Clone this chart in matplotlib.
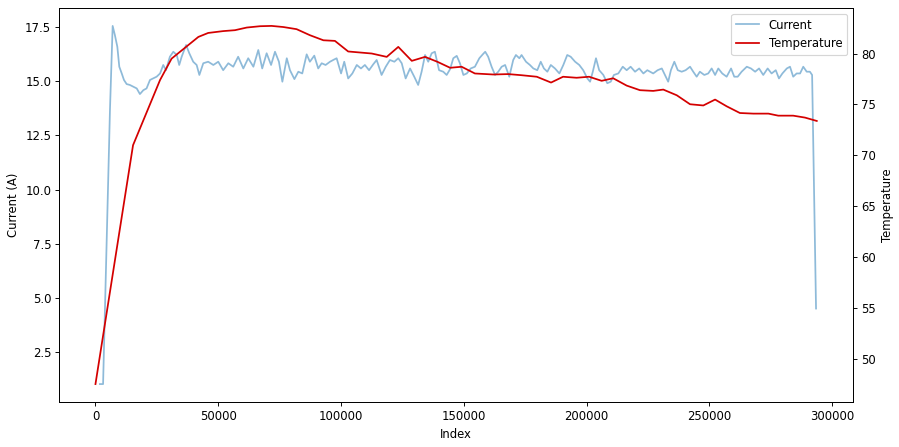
import matplotlib
matplotlib.use("Agg")
import matplotlib.pyplot as plt

current_index = [1800, 3100, 5000, 5900, 7000, 7900, 8900, 9700, 10700, 11600, 12700, 14000,
    15400, 16800, 18100, 19500, 20800, 22200, 23500, 24900, 26300, 27600, 28700, 30300,
    31700, 33100, 34100, 35100, 36900, 38200, 39800, 41200, 42300, 43900, 45900, 48000,
    50000, 52000, 54100, 56100, 58100, 60200, 62200, 64300, 66300, 67900, 69700, 71500,
    73100, 74700, 76100, 77900, 79200, 81000, 82600, 84200, 86000, 87300, 89100, 90700,
    92100, 93700, 95500, 96800, 98200, 100000, 101300, 102900, 104600, 106400, 108100,
    109700, 111400, 113100, 114500, 116500, 118200, 119900, 121700, 123300, 124700,
    126300, 128100, 129800, 131400, 132800, 134200, 135500, 136900, 138200, 139900,
    141600, 143000, 144400, 145700, 147100, 148400, 149800, 151200, 152800, 154500,
    156300, 157700, 158700, 159900, 161300, 162700, 164000, 165400, 166800, 168500,
    170100, 171200, 172600, 173500, 175300, 176900, 178300, 179900, 181300, 182600,
    184000, 185400, 187100, 188900, 190500, 192100, 193500, 195300, 197000, 198600,
    200300, 201400, 202500, 203800, 205100, 206800, 208400, 209800, 211100, 212900,
    214700, 216300, 217900, 219700, 221400, 223100, 224700, 227100, 228900, 230600,
    231900, 233200, 234300, 235700, 237100, 238700, 240300, 242100, 243400, 244800,
    246100, 247900, 249500, 250900, 252300, 253600, 255200, 257000, 258800, 260100,
    261500, 263100, 265200, 266900, 268600, 270200, 271900, 273700, 275300, 277000,
    278300, 279700, 281500, 282800, 284100, 285500, 286900, 288200, 289600, 290900,
    291800, 293400]

current_values = [1.04, 1.04, 9.51, 13.66, 17.54, 17.12, 16.58, 15.66, 15.35, 15.05, 14.86, 14.82,
    14.74, 14.66, 14.40, 14.58, 14.66, 15.05, 15.12, 15.20, 15.35, 15.74, 15.50, 16.12,
    16.35, 16.20, 15.74, 16.12, 16.66, 16.28, 15.89, 15.74, 15.28, 15.82, 15.89, 15.74,
    15.89, 15.50, 15.82, 15.66, 16.12, 15.58, 16.05, 15.66, 16.43, 15.58, 16.28, 15.74,
    16.35, 15.89, 14.97, 16.05, 15.50, 15.09, 15.43, 15.35, 16.23, 15.89, 16.17, 15.58,
    15.82, 15.74, 15.89, 15.97, 16.05, 15.35, 15.89, 15.12, 15.35, 15.74, 15.58,
    15.74, 15.50, 15.77, 15.97, 15.28, 15.66, 15.97, 15.89, 16.05, 15.82,
    15.12, 15.58, 15.20, 14.82, 15.43, 16.20, 15.89, 16.28, 16.35, 15.50,
    15.43, 15.28, 15.55, 16.05, 16.16, 15.82, 15.28, 15.35, 15.58, 15.66,
    16.05, 16.23, 16.35, 16.12, 15.66, 15.28, 15.43, 15.66, 15.74, 15.20,
    15.97, 16.20, 16.05, 16.20, 15.89, 15.74, 15.58, 15.50, 15.89, 15.58,
    15.43, 15.74, 15.58, 15.35, 15.74, 16.20, 16.12, 15.89, 15.74, 15.50,
    15.12, 14.97, 15.43, 16.05, 15.50, 15.28, 14.90, 14.97, 15.28, 15.35,
    15.66, 15.50, 15.66, 15.43, 15.58, 15.35, 15.50, 15.35, 15.50, 15.58,
    15.28, 14.97, 15.50, 15.89, 15.50, 15.43, 15.50, 15.66, 15.43, 15.20,
    15.43, 15.28, 15.35, 15.58, 15.28, 15.58, 15.35, 15.20, 15.58, 15.20,
    15.20, 15.43, 15.66, 15.58, 15.43, 15.58, 15.28, 15.58, 15.35, 15.50,
    15.12, 15.35, 15.58, 15.66, 15.20, 15.35, 15.35, 15.66, 15.43, 15.43,
    15.28, 4.52]

temp_index = [0, 15300, 26300, 31000, 41900, 45900, 52000, 56800, 61600, 67000, 71700,
    76500, 81900, 87300, 92800, 97500, 102900, 112500, 118600, 123300, 128800,
    134200, 139300, 144400, 149100, 154500, 162000, 168100, 173500, 179700, 185500,
    190400, 195900, 201000, 206100, 210800, 216300, 221700, 227100, 231200, 236700,
    242100, 247500, 252300, 257000, 262400, 267900, 274000, 278000, 284100, 288900,
    293700]

temp_values = [47.55, 71.0, 77.4, 79.5, 81.63, 82.02, 82.2, 82.29, 82.55, 82.68, 82.71,
    82.6, 82.39, 81.8, 81.3, 81.24, 80.2, 80.0, 79.67, 80.65, 79.28,
    79.67, 79.18, 78.6, 78.7, 78.04, 77.94, 77.98, 77.87, 77.72, 77.15,
    77.72, 77.62, 77.72, 77.32, 77.57, 76.85, 76.4, 76.33, 76.46, 75.9,
    75.02, 74.9, 75.48, 74.82, 74.16, 74.1, 74.1, 73.9, 73.9, 73.71,
    73.38]

DPI = 84
fig = plt.figure(figsize=(900 / DPI, 447 / DPI), dpi=DPI)
ax = fig.add_axes([0.066, 0.1007, 0.8816, 0.8814])
l1, = ax.plot(current_index, current_values, color="#1f77b4", alpha=0.5, lw=1.5, label="Current")
ax.set_xlabel("Index")
ax.set_ylabel("Current (A)")
ax2 = ax.twinx()
l2, = ax2.plot(temp_index, temp_values, color="#d40000", lw=1.5, label="Temperature")
ax2.set_ylabel("Temperature")
ax2.legend([l1, l2], ["Current", "Temperature"], loc="upper right")
fig.savefig("out.png", dpi=DPI)
